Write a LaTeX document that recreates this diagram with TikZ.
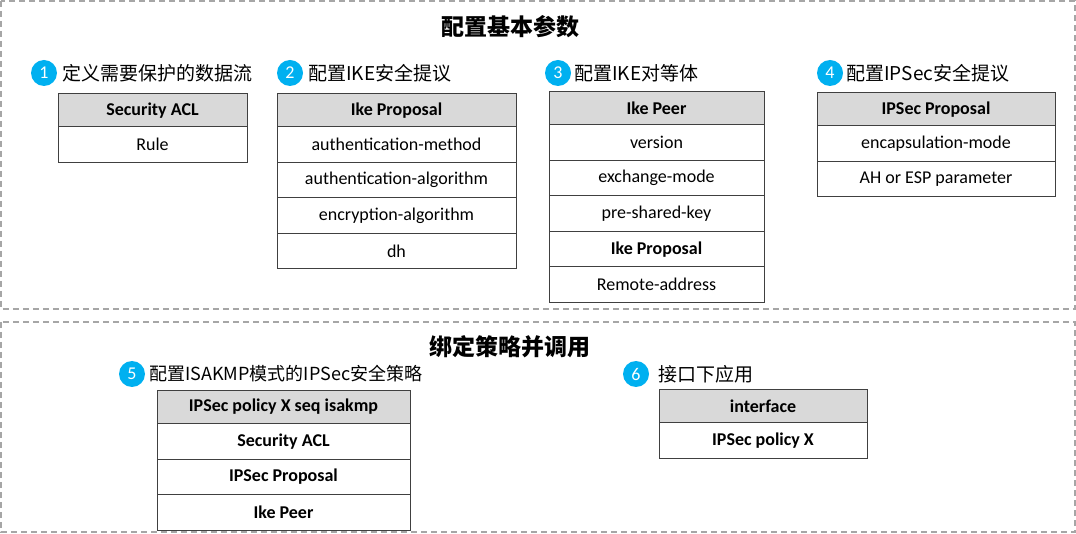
\documentclass[tikz,border=0pt]{standalone}
\usepackage{fontspec}
\setmainfont{Carlito}
\newfontfamily\cjk{Noto Sans CJK SC}
\usetikzlibrary{positioning}
\definecolor{numblue}{HTML}{00B0F0}
\definecolor{hdrgray}{HTML}{D9D9D9}
\definecolor{framegray}{HTML}{A6A6A6}
\tikzset{
    panel/.style={draw=framegray, line width=1.5pt, dash pattern=on 6pt off 4pt},
    hdr/.style={draw=black!75, line width=1pt, fill=hdrgray, minimum height=33pt,
                inner sep=0pt, outer sep=0pt, font=\bfseries\fontsize{18}{20}\selectfont},
    cell/.style={draw=black!75, line width=1pt, fill=white, minimum height=35.5pt,
                 inner sep=0pt, outer sep=0pt, font=\fontsize{18}{20}\selectfont},
    bcell/.style={cell, font=\bfseries\fontsize{18}{20}\selectfont},
    num/.style={circle, fill=numblue, text=white, minimum size=26pt, inner sep=0pt,
                font=\fontsize{18}{20}\selectfont},
    steplabel/.style={inner sep=0pt, anchor=west, font=\cjk\fontsize{19}{21}\selectfont},
    title/.style={font=\cjk\bfseries\fontsize{23}{25}\selectfont},
}

\begin{document}
\begin{tikzpicture}[x=1pt, y=-1pt]
    \useasboundingbox (0,0) rectangle (1076,534);
    \draw[panel] (1,1) rectangle (1075,309);
    \draw[panel] (1,322) rectangle (1075,532);

    \node[title] (basic) at (510,27) {配置基本参数};
    \node[title] (bind) at (510,347) {绑定策略并调用};

    % step 1
    \node[num] (n1) at (44,73) {1};
    \node[steplabel, right=5pt of n1] (s1) {定义需要保护的数据流};
    \node[hdr, minimum width=189pt] (acl) at (152.5,110.5) {Security ACL};
    \node[cell, minimum width=189pt, below=0pt of acl] (acl1) {Rule};

    % step 2
    \node[num] (n2) at (290,73) {2};
    \node[steplabel, right=5pt of n2] (s2) {配置IKE安全提议};
    \node[hdr, minimum width=239pt] (ikep) at (396.5,110.5) {Ike Proposal};
    \node[cell, minimum width=239pt, below=0pt of ikep] (ikep1) {authentication-method};
    \node[cell, minimum width=239pt, below=0pt of ikep1] (ikep2) {authentication-algorithm};
    \node[cell, minimum width=239pt, below=0pt of ikep2] (ikep3) {encryption-algorithm};
    \node[cell, minimum width=239pt, below=0pt of ikep3] (ikep4) {dh};

    % step 3
    \node[num] (n3) at (558,73) {3};
    \node[steplabel, right=3pt of n3] (s3) {配置IKE对等体};
    \node[hdr, minimum width=215pt] (peer) at (656.5,108.5) {Ike Peer};
    \node[cell, minimum width=215pt, below=0pt of peer] (peer1) {version};
    \node[cell, minimum width=215pt, below=0pt of peer1] (peer2) {exchange-mode};
    \node[cell, minimum width=215pt, below=0pt of peer2] (peer3) {pre-shared-key};
    \node[bcell, minimum width=215pt, below=0pt of peer3] (peer4) {Ike Proposal};
    \node[cell, minimum width=215pt, below=0pt of peer4] (peer5) {Remote-address};

    % step 4
    \node[num] (n4) at (830,73) {4};
    \node[steplabel, right=3pt of n4] (s4) {配置IPSec安全提议};
    \node[hdr, minimum width=238pt] (ipsp) at (936,109.5) {IPSec Proposal};
    \node[cell, minimum width=238pt, below=0pt of ipsp] (ipsp1) {encapsulation-mode};
    \node[cell, minimum width=238pt, below=0pt of ipsp1] (ipsp2) {AH or ESP parameter};

    % step 5
    \node[num] (n5) at (132,374) {5};
    \node[steplabel, right=4pt of n5, font=\cjk\fontsize{18}{20}\selectfont] (s5) {配置ISAKMP模式的IPSec安全策略};
    \node[hdr, minimum width=253pt] (pol) at (283.5,407) {IPSec policy X seq isakmp};
    \node[bcell, minimum width=253pt, below=0pt of pol] (pol1) {Security ACL};
    \node[bcell, minimum width=253pt, below=0pt of pol1] (pol2) {IPSec Proposal};
    \node[bcell, minimum width=253pt, below=0pt of pol2] (pol3) {Ike Peer};

    % step 6
    \node[num] (n6) at (636,374) {6};
    \node[steplabel, right=9pt of n6] (s6) {接口下应用};
    \node[hdr, minimum width=208pt] (intf) at (763,406) {interface};
    \node[bcell, minimum width=208pt, below=0pt of intf] (intf1) {IPSec policy X};
\end{tikzpicture}
\end{document}
